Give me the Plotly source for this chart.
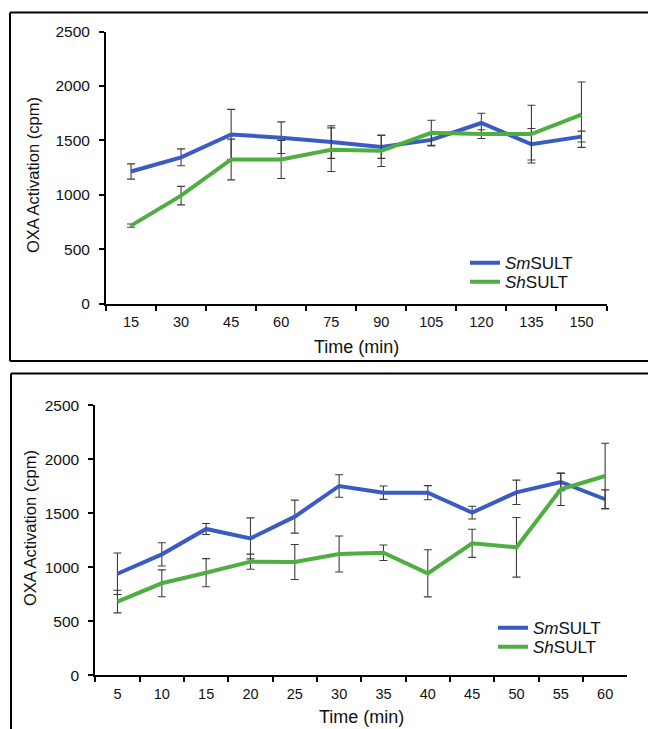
import plotly.graph_objects as go

# ---- data ----
top_times = ["15", "30", "45", "60", "75", "90", "105", "120", "135", "150"]
top_sm = [1215, 1345, 1555, 1525, 1485, 1440, 1505, 1660, 1465, 1535]
top_sm_err = [70, 77, 230, 145, 150, 105, 55, 90, 145, 50]
top_sh = [718, 993, 1325, 1325, 1415, 1405, 1570, 1558, 1558, 1736]
top_sh_err = [15, 85, 187, 175, 200, 145, 115, 40, 265, 300]

bot_times = ["5", "10", "15", "20", "25", "30", "35", "40", "45", "50", "55", "60"]
bot_sm = [940, 1120, 1355, 1268, 1469, 1753, 1691, 1691, 1506, 1694, 1790, 1630]
bot_sm_err = [192, 108, 51, 190, 153, 104, 62, 65, 59, 113, 80, 87]
bot_sh = [683, 852, 950, 1052, 1049, 1123, 1135, 944, 1222, 1185, 1722, 1845]
bot_sh_err = [105, 124, 130, 70, 162, 167, 72, 218, 130, 276, 150, 303]

y_ticks = [0, 500, 1000, 1500, 2000, 2500]
series_names = ["<i>Sm</i>SULT", "<i>Sh</i>SULT"]

W, H = 648, 729
BLUE = "#3A5BC2"
GREEN = "#4EAE42"
ERR = "#3C3C3C"
FONT = "Liberation Sans, Arial, sans-serif"


def px(xp):
    return xp / W


def py(yp):
    return 1 - yp / H


def err(vals):
    return dict(type="data", array=vals, visible=True, color=ERR, thickness=1.1, width=4)


fig = go.Figure()

fig.add_trace(go.Scatter(x=top_times, y=top_sm, mode="lines", name=series_names[0],
                         line=dict(color=BLUE, width=4), error_y=err(top_sm_err),
                         xaxis="x", yaxis="y", legend="legend"))
fig.add_trace(go.Scatter(x=top_times, y=top_sh, mode="lines", name=series_names[1],
                         line=dict(color=GREEN, width=4), error_y=err(top_sh_err),
                         xaxis="x", yaxis="y", legend="legend2"))
fig.add_trace(go.Scatter(x=bot_times, y=bot_sm, mode="lines", name=series_names[0],
                         line=dict(color=BLUE, width=4), error_y=err(bot_sm_err),
                         xaxis="x2", yaxis="y2", legend="legend3"))
fig.add_trace(go.Scatter(x=bot_times, y=bot_sh, mode="lines", name=series_names[1],
                         line=dict(color=GREEN, width=4), error_y=err(bot_sh_err),
                         xaxis="x2", yaxis="y2", legend="legend4"))

xtickfont = dict(family=FONT, size=14.5, color="#111")
ytickfont = dict(family=FONT, size=15.5, color="#111")

xcommon = dict(type="category", tickson="boundaries", ticks="outside", ticklen=5,
               tickwidth=1.5, tickcolor="black", showline=True, linecolor="black",
               linewidth=2, showgrid=False, zeroline=False, tickfont=xtickfont,
               ticklabelstandoff=4, automargin=False)
ycommon = dict(range=[0, 2500], tickvals=y_ticks, ticks="outside", ticklen=5,
               tickwidth=1.5, tickcolor="black", showline=True, linecolor="black",
               linewidth=2, showgrid=False, zeroline=False, tickfont=ytickfont,
               ticklabelstandoff=6, automargin=False)

legfont = dict(family=FONT, size=17, color="#111")


def leg(xp, yp):
    return dict(x=px(xp), y=py(yp), xanchor="left", yanchor="middle",
                bgcolor="rgba(0,0,0,0)", font=legfont, borderwidth=0)


def hline(x0, x1, y):
    return dict(type="line", xref="paper", yref="paper", x0=px(x0), x1=px(x1),
                y0=py(y), y1=py(y), line=dict(color="black", width=2))


def vline(x, y0, y1):
    return dict(type="line", xref="paper", yref="paper", x0=px(x), x1=px(x),
                y0=py(y0), y1=py(y1), line=dict(color="black", width=2))


fig.update_layout(
    width=W, height=H, margin=dict(l=0, r=0, t=0, b=0, autoexpand=False),
    paper_bgcolor="white", plot_bgcolor="white", showlegend=True,
    xaxis=dict(domain=[px(106), px(606.5)], range=[-0.5, len(top_times) - 0.5],
               anchor="y", **xcommon),
    yaxis=dict(domain=[py(303.8), py(31.5)], anchor="x", **ycommon),
    xaxis2=dict(domain=[px(95.3), px(627.3)], range=[-0.5, len(bot_times) - 0.5],
                anchor="y2", **xcommon),
    yaxis2=dict(domain=[py(675.3), py(405.3)], anchor="x2", **ycommon),
    legend=leg(465, 263.3),
    legend2=leg(465, 282.3),
    legend3=leg(493, 628.3),
    legend4=leg(493, 647.3),
    shapes=[
        # top panel frame (open on the right, as in the cropped original)
        vline(10, 12.5, 361), hline(10, 660, 12.5), hline(10, 660, 361),
        # bottom panel frame
        vline(11, 373.5, 740), hline(11, 660, 373.5),
    ],
    annotations=[
        dict(text="OXA Activation (cpm)", xref="paper", yref="paper", x=px(33), y=py(175),
             textangle=-90, showarrow=False, font=dict(family=FONT, size=16.5, color="#111"),
             xanchor="center", yanchor="middle"),
        dict(text="Time (min)", xref="paper", yref="paper", x=px(356), y=py(346.7),
             showarrow=False, font=dict(family=FONT, size=18, color="#111"),
             xanchor="center", yanchor="middle"),
        dict(text="OXA Activation (cpm)", xref="paper", yref="paper", x=px(30), y=py(528),
             textangle=-90, showarrow=False, font=dict(family=FONT, size=16.5, color="#111"),
             xanchor="center", yanchor="middle"),
        dict(text="Time (min)", xref="paper", yref="paper", x=px(361), y=py(717.3),
             showarrow=False, font=dict(family=FONT, size=18, color="#111"),
             xanchor="center", yanchor="middle"),
    ],
)

fig.write_html(
    "out.html",
    config={"displayModeBar": False},
    post_script="document.body.style.margin='0';document.body.style.overflow='hidden';",
)
